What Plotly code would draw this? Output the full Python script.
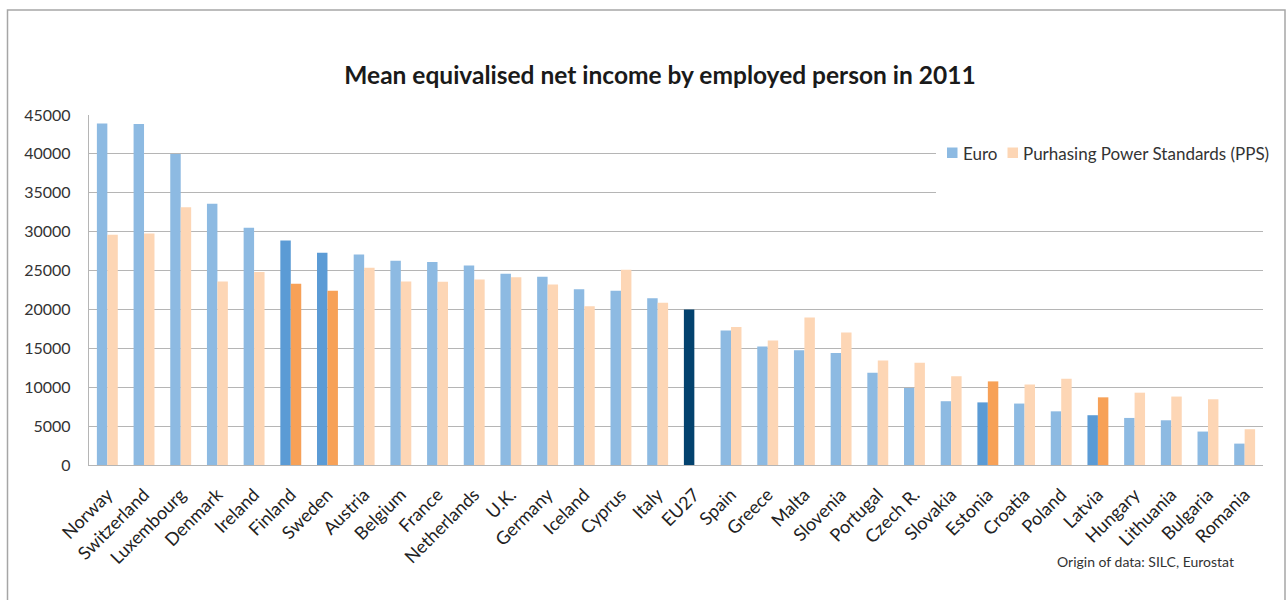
import plotly.graph_objects as go

countries = ["Norway", "Switzerland", "Luxembourg", "Denmark", "Ireland", "Finland", "Sweden",
             "Austria", "Belgium", "France", "Netherlands", "U.K.", "Germany", "Iceland", "Cyprus",
             "Italy", "EU27", "Spain", "Greece", "Malta", "Slovenia", "Portugal", "Czech R.",
             "Slovakia", "Estonia", "Croatia", "Poland", "Latvia", "Hungary", "Lithuania",
             "Bulgaria", "Romania"]
euro = [43900, 43850, 40000, 33600, 30500, 28850, 27300, 27050, 26250, 26100, 25650, 24600,
        24200, 22600, 22400, 21450, 20000, 17300, 15250, 14750, 14400, 11850, 9900, 8200,
        8050, 7900, 6900, 6400, 6050, 5750, 4300, 2750]
pps = [29600, 29750, 33150, 23600, 24800, 23300, 22400, 25350, 23600, 23550, 23850, 24150,
       23200, 20400, 25100, 20850, None, 17750, 16000, 18950, 17050, 13450, 13150, 11400,
       10750, 10350, 11100, 8700, 9300, 8800, 8450, 4600]
series_names = ["Euro", "Purhasing Power Standards (PPS)"]
highlight = ["Finland", "Sweden", "Estonia", "Latvia"]

EURO_C, EURO_H, EU27_C = "#8DBAE2", "#5B9BD5", "#03426E"
PPS_C, PPS_H = "#FDD6B5", "#F7A157"
euro_colors = [EU27_C if c == "EU27" else (EURO_H if c in highlight else EURO_C) for c in countries]
pps_colors = [PPS_H if c in highlight else PPS_C for c in countries]

FONT = "Lato"

fig = go.Figure()
fig.add_trace(go.Bar(name=series_names[0], x=countries, y=euro,
                     marker=dict(color=euro_colors, line=dict(width=0))))
fig.add_trace(go.Bar(name=series_names[1], x=countries, y=pps,
                     marker=dict(color=pps_colors, line=dict(width=0))))

fig.update_layout(
    width=1287, height=600,
    margin=dict(l=89, r=24, t=115, b=135, autoexpand=False),
    paper_bgcolor="white", plot_bgcolor="white",
    barmode="group", bargap=0.43, bargroupgap=0,
    font=dict(family=FONT, color="#333333"),
    title=dict(text="<b>Mean equivalised net income by employed person in 2011</b>",
               x=0.5128, xref="container", xanchor="center",
               y=1 - 75 / 600, yref="container", yanchor="middle",
               font=dict(family=FONT, size=24.5, color="#1a1a1a")),
    showlegend=False,
)
fig.update_yaxes(range=[0, 45000], tickvals=list(range(0, 45001, 5000)), tickformat="d",
                 showgrid=True, gridcolor="#B5B5B5", gridwidth=1.3,
                 showline=True, linecolor="#B5B5B5", linewidth=1.3, ticklabelstandoff=14,
                 tickfont=dict(family=FONT, size=16, color="#333333"), ticks="", zeroline=False)
fig.update_xaxes(tickangle=-45, tickfont=dict(family=FONT, size=18, color="#222222"),
                 ticklabelstandoff=11, ticklabelshift=0,
                 showline=True, linecolor="#B5B5B5", linewidth=1.3, ticks="", showgrid=False)

pw = 1174.0
ph = 350.0
def px(x):
    return (x - 89) / pw
def py(y):
    return (465 - y) / ph

# white legend box covering the gridlines
fig.add_shape(type="rect", xref="paper", yref="paper", x0=px(936), x1=1.0, y0=py(197), y1=py(108),
              fillcolor="white", line=dict(width=0), layer="above")
# legend entries
fig.add_shape(type="rect", xref="paper", yref="paper", x0=px(947), x1=px(957.5), y0=py(158), y1=py(147.5),
              fillcolor=EURO_C, line=dict(width=0), layer="above")
fig.add_annotation(text=series_names[0], xref="paper", yref="paper", x=px(961), xanchor="left",
                   y=py(153), yanchor="middle", showarrow=False,
                   font=dict(family=FONT, size=17, color="#333333"))
fig.add_shape(type="rect", xref="paper", yref="paper", x0=px(1007.5), x1=px(1018), y0=py(158), y1=py(147.5),
              fillcolor=PPS_C, line=dict(width=0), layer="above")
fig.add_annotation(text=series_names[1], xref="paper", yref="paper", x=px(1021), xanchor="left",
                   y=py(153), yanchor="middle", showarrow=False,
                   font=dict(family=FONT, size=17, color="#333333"))
# outer frame
fig.add_shape(type="rect", xref="paper", yref="paper", x0=px(7.5), x1=px(1285), y0=py(620), y1=py(10),
              fillcolor="rgba(0,0,0,0)", line=dict(color="#A6A6A6", width=1.5), layer="above")
fig.add_annotation(text="Origin of data: SILC, Eurostat", xref="paper", yref="paper",
                   x=px(1236), xanchor="right", y=py(561), yanchor="middle", showarrow=False,
                   font=dict(family=FONT, size=14, color="#333333"))

fig.write_html("out.html")
